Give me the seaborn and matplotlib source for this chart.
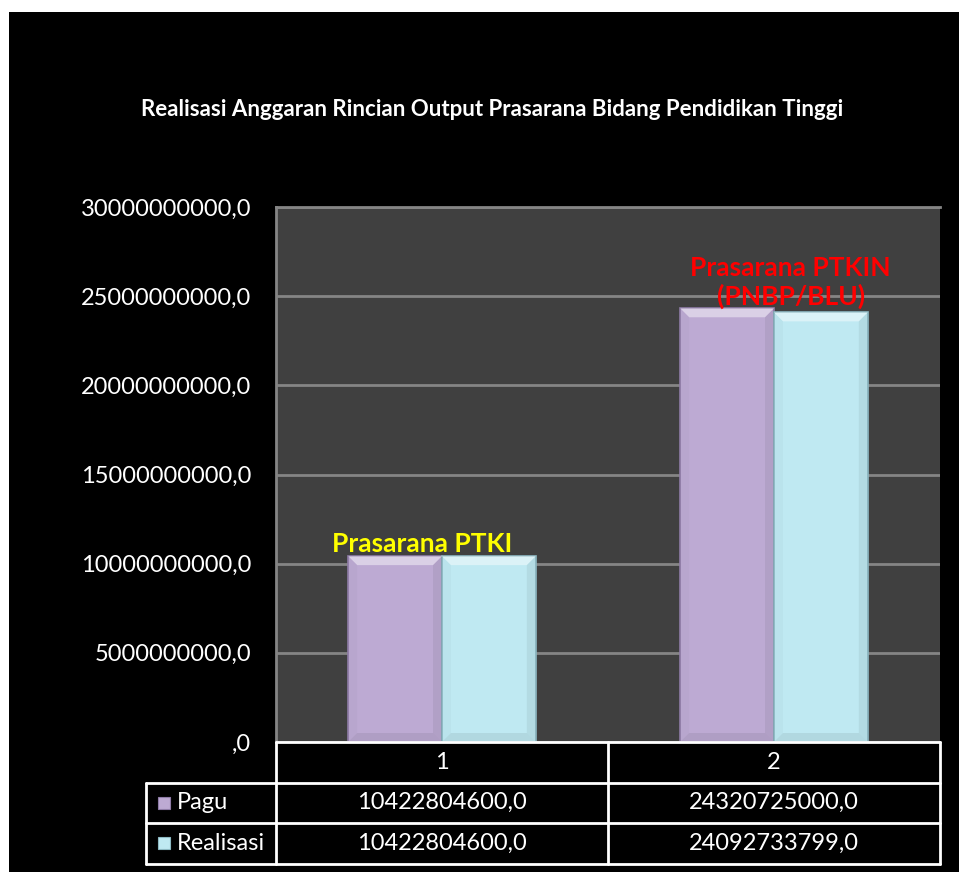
import matplotlib
matplotlib.use("Agg")
import matplotlib.pyplot as plt
from matplotlib.patches import Polygon, Rectangle
from matplotlib.lines import Line2D
from matplotlib.ticker import FuncFormatter, MultipleLocator
import seaborn as sns
import pandas as pd
import numpy as np

# ---- data ----
categories = ["1", "2"]
series_names = ["Pagu", "Realisasi"]
pagu = [10422804600.0, 24320725000.0]
realisasi = [10422804600.0, 24092733799.0]
group_labels = ["Prasarana PTKI", "Prasarana PTKIN\n(PNBP/BLU)"]
group_label_colors = ["#FFFF00", "#FF0000"]
title = "Realisasi Anggaran Rincian Output Prasarana Bidang Pendidikan Tinggi"

colors = {"Pagu": "#BDAAD3", "Realisasi": "#BFE9F2"}
edge_colors = {"Pagu": "#8E7BA6", "Realisasi": "#8CB8C2"}

df = pd.DataFrame({
    "cat": categories * 2,
    "series": [series_names[0]] * 2 + [series_names[1]] * 2,
    "value": pagu + realisasi,
})

sns.set_theme(style="dark")
plt.rcParams["font.family"] = ["Lato", "DejaVu Sans"]

W, H = 959, 872
fig = plt.figure(figsize=(W / 100, H / 100), dpi=100)
fig.patch.set_facecolor("white")
# black chart area with a thin white margin at left/top
fig.add_artist(Rectangle((9 / W, 0), 1 - 9 / W, 1 - 12 / H, transform=fig.transFigure,
                         facecolor="black", edgecolor="none", zorder=0))

ax_l, ax_r, ax_t, ax_b = 276, 940, 207, 742
ax = fig.add_axes([ax_l / W, 1 - ax_b / H, (ax_r - ax_l) / W, (ax_b - ax_t) / H])
ax.set_facecolor("#404040")

sns.barplot(data=df, x="cat", y="value", hue="series", order=categories,
            hue_order=series_names, palette=colors, width=0.565, saturation=1,
            ax=ax, legend=False, zorder=3)

ax.set_xlim(-0.5, 1.5)
ax.set_ylim(0, 30e9)
ax.yaxis.set_major_locator(MultipleLocator(5e9))


def fmt(v, pos):
    s = f"{v:.1f}".replace(".", ",")
    return s[1:] if s.startswith("0,") else s


ax.yaxis.set_major_formatter(FuncFormatter(fmt))
ax.tick_params(axis="y", colors="white", labelsize=17, length=0, pad=18)
ax.tick_params(axis="x", length=0, labelbottom=False)
ax.set_xlabel("")
ax.set_ylabel("")
ax.grid(axis="y", color="#858585", linewidth=2, zorder=1)
ax.grid(axis="x", visible=False)
for side in ["right", "bottom"]:
    ax.spines[side].set_visible(False)
for side in ["left", "top"]:
    ax.spines[side].set_color("#858585")
    ax.spines[side].set_linewidth(2)

# bevelled look on the bars
fig.canvas.draw()
to_data = ax.transData.inverted()
px_x = abs(to_data.transform((1, 0))[0] - to_data.transform((0, 0))[0])
px_y = abs(to_data.transform((0, 1))[1] - to_data.transform((0, 0))[1])
bev = 9
for i, p in enumerate(ax.patches):
    name = series_names[i // len(categories)]
    p.set_edgecolor(edge_colors[name])
    p.set_linewidth(1.2)
    x0, y0 = p.get_x(), p.get_y()
    x1, y1 = x0 + p.get_width(), y0 + p.get_height()
    bx, by = bev * px_x, bev * px_y
    top = Polygon([(x0, y1), (x1, y1), (x1 - bx, y1 - by), (x0 + bx, y1 - by)],
                  closed=True, facecolor="white", alpha=0.45, edgecolor="none", zorder=4)
    bottom = Polygon([(x0, y0), (x1, y0), (x1 - bx, y0 + by), (x0 + bx, y0 + by)],
                     closed=True, facecolor="black", alpha=0.07, edgecolor="none", zorder=4)
    left = Polygon([(x0, y0), (x0, y1), (x0 + bx, y1 - by), (x0 + bx, y0 + by)],
                   closed=True, facecolor="black", alpha=0.025, edgecolor="none", zorder=4)
    right = Polygon([(x1, y0), (x1, y1), (x1 - bx, y1 - by), (x1 - bx, y0 + by)],
                    closed=True, facecolor="black", alpha=0.06, edgecolor="none", zorder=4)
    for poly in (top, bottom, left, right):
        ax.add_patch(poly)

# group labels above the bars
for i, (lab, col) in enumerate(zip(group_labels, group_label_colors)):
    top_val = max(pagu[i], realisasi[i])
    if "\n" in lab:
        xpos, yoff = i + 0.05, -0.05e9
    else:
        xpos, yoff = i - 0.06, 0.0
    ax.text(xpos, top_val + yoff, lab, color=col, fontsize=19, fontweight="bold",
            ha="center", va="bottom", linespacing=1.2, zorder=6)

# title
fig.text(0.513, 1 - 110 / H, title, color="white", fontsize=16, fontweight="bold",
         ha="center", va="center")

# data table under the plot
pos = ax.get_position()
row_h = 40.5 / H
xl = 146 / W
xc = [pos.x0, (pos.x0 + pos.x1) / 2, pos.x1]
y_rows = [pos.y0 - k * row_h for k in range(4)]
lw = 2
lc = "white"


def fline(xs, ys):
    fig.add_artist(Line2D(xs, ys, transform=fig.transFigure, color=lc, lw=lw, zorder=5))


# horizontal lines
fline([xc[0], xc[2]], [y_rows[0], y_rows[0]])
for k in (1, 2, 3):
    fline([xl, xc[2]], [y_rows[k], y_rows[k]])
# vertical lines
fline([xl, xl], [y_rows[1], y_rows[3]])
for x in xc:
    fline([x, x], [y_rows[0], y_rows[3]])

fs = 17
for j, cat in enumerate(categories):
    cx = (xc[j] + xc[j + 1]) / 2
    fig.text(cx, (y_rows[0] + y_rows[1]) / 2, cat, color="white", fontsize=fs,
             ha="center", va="center")
rows = [pagu, realisasi]
for r, name in enumerate(series_names):
    cy = (y_rows[r + 1] + y_rows[r + 2]) / 2
    fig.add_artist(Rectangle((xl + 12 / W, cy - 6 / H), 12 / W, 12 / H,
                             transform=fig.transFigure, facecolor=colors[name],
                             edgecolor=edge_colors[name], lw=0.8, zorder=6))
    fig.text(xl + 31 / W, cy, name, color="white", fontsize=fs, ha="left", va="center")
    for j in range(len(categories)):
        cx = (xc[j] + xc[j + 1]) / 2
        fig.text(cx, cy, f"{rows[r][j]:.1f}".replace(".", ","), color="white",
                 fontsize=fs, ha="center", va="center")

fig.savefig("out.png", dpi=100, facecolor=fig.get_facecolor())
